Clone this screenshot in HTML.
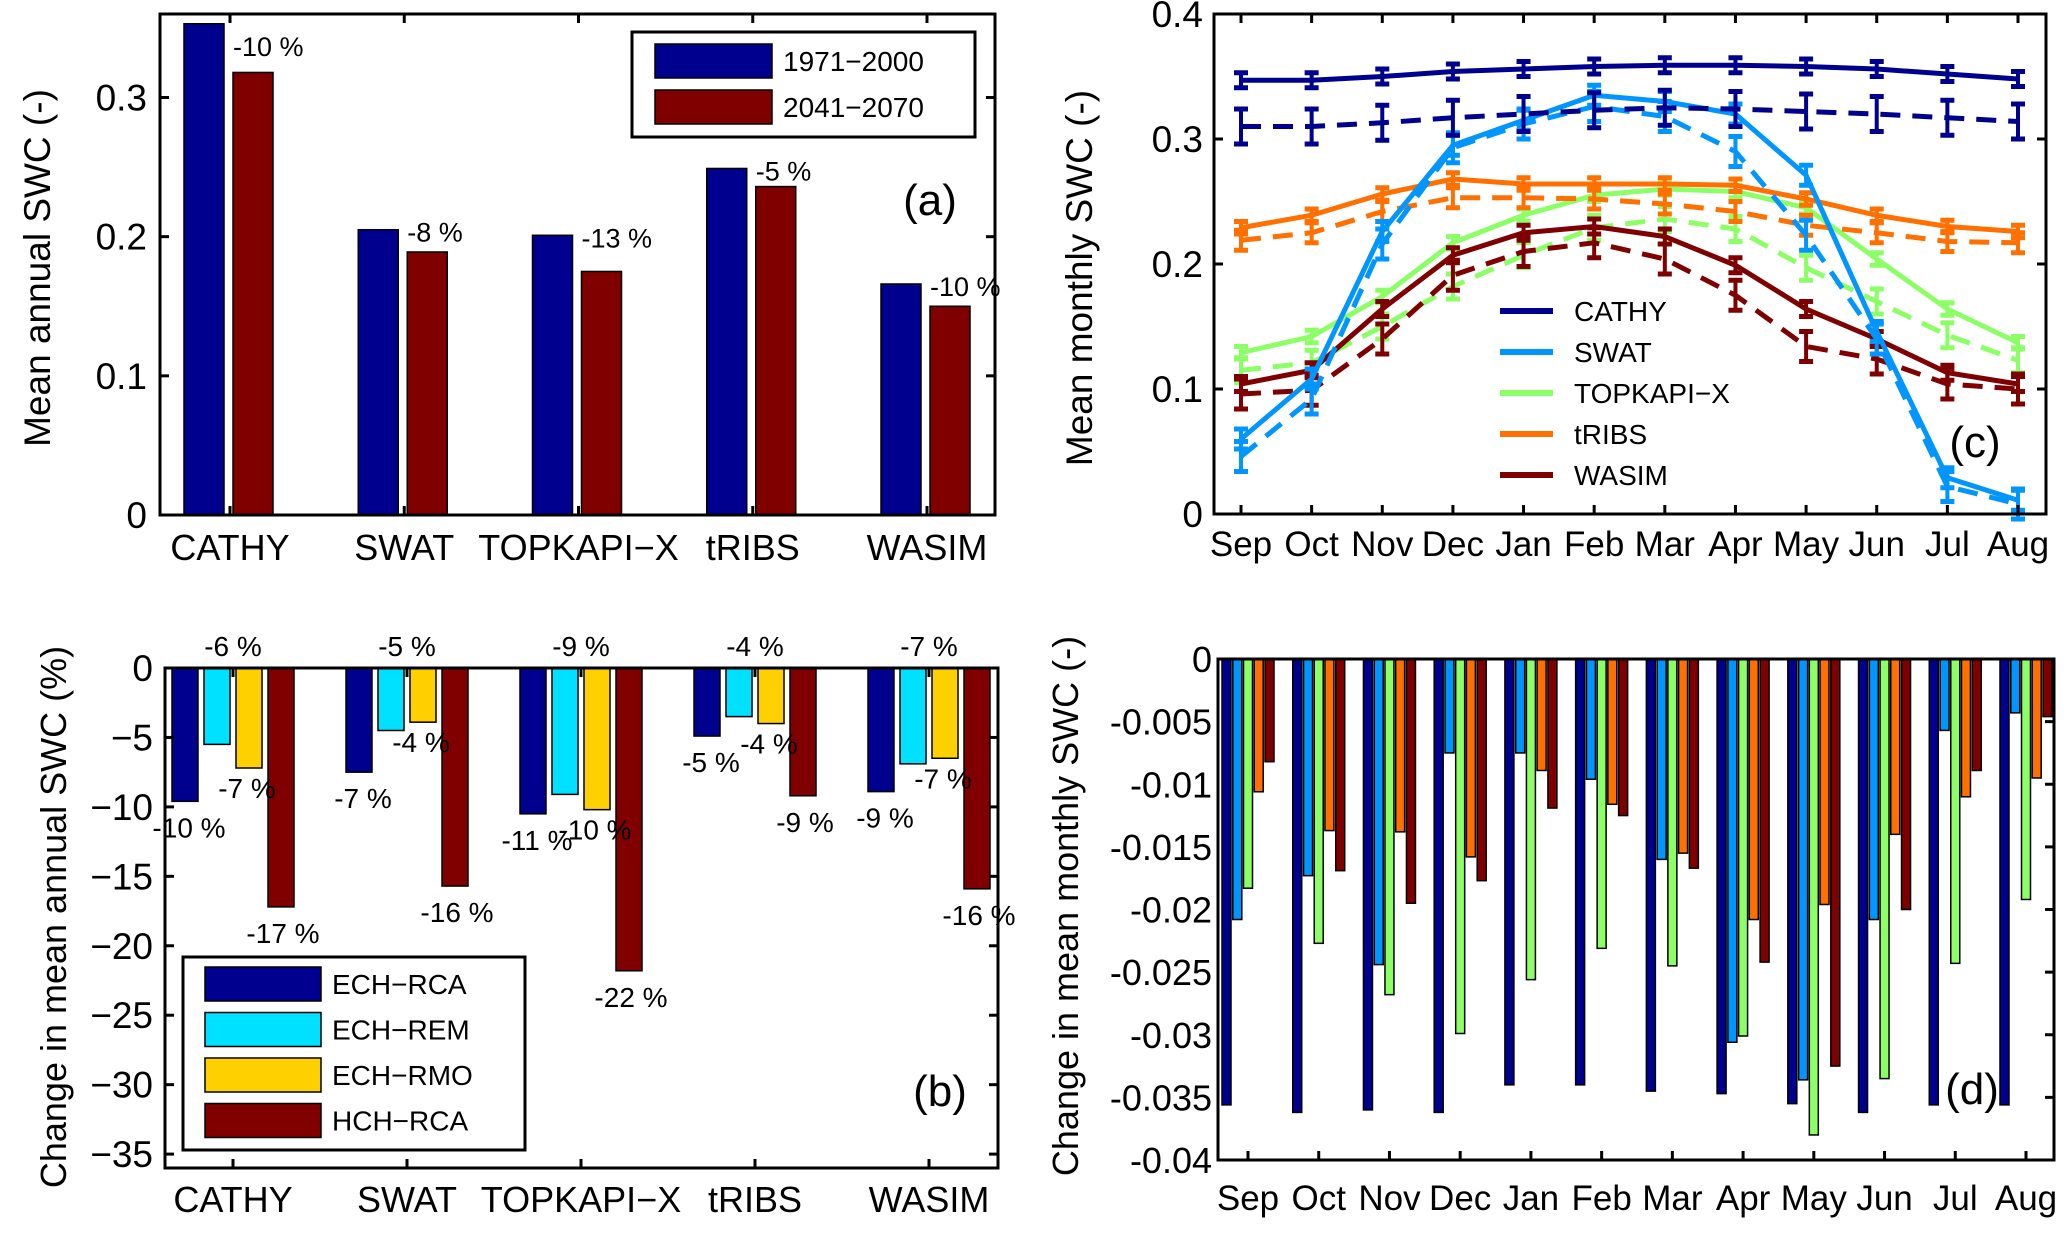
<!DOCTYPE html>
<html><head><meta charset="utf-8"><style>
html,body{margin:0;padding:0;background:#fff;}
svg{display:block;font-family:"Liberation Sans",Arial,sans-serif;}
</style></head><body>
<svg id="fig" width="2067" height="1237" viewBox="0 0 2067 1237" xmlns="http://www.w3.org/2000/svg"></svg>
<script>
// ---------- Panel (a) data ----------
const aCategories = ["CATHY","SWAT","TOPKAPI\u2212X","tRIBS","WASIM"];
const aHist = [0.353,0.205,0.201,0.249,0.166];
const aFut = [0.318,0.189,0.175,0.236,0.150];
const aPct = ["-10 %","-8 %","-13 %","-5 %","-10 %"];
const aTicks = [0,0.1,0.2,0.3];
const aTickLabels = ["0","0.1","0.2","0.3"];
const aLegend = ["1971\u22122000","2041\u22122070"];

// ---------- Panel (b) data ----------
const bCategories = ["CATHY","SWAT","TOPKAPI\u2212X","tRIBS","WASIM"];
const bEchRca = [-9.6,-7.5,-10.5,-4.9,-8.9];
const bEchRem = [-5.5,-4.5,-9.1,-3.5,-6.9];
const bEchRmo = [-7.2,-3.9,-10.2,-4.0,-6.5];
const bHchRca = [-17.2,-15.7,-21.8,-9.2,-15.9];
const bLblRca = ["-10 %","-7 %","-11 %","-5 %","-9 %"];
const bLblRem = ["-6 %","-5 %","-9 %","-4 %","-7 %"];
const bLblRmo = ["-7 %","-4 %","-10 %","-4 %","-7 %"];
const bLblHch = ["-17 %","-16 %","-22 %","-9 %","-16 %"];
const bTicks = [0,-5,-10,-15,-20,-25,-30,-35];
const bTickLabels = ["0","\u22125","\u221210","\u221215","\u221220","\u221225","\u221230","\u221235"];
const bLegend = ["ECH\u2212RCA","ECH\u2212REM","ECH\u2212RMO","HCH\u2212RCA"];

// ---------- Panel (c) data ----------
const months = ["Sep","Oct","Nov","Dec","Jan","Feb","Mar","Apr","May","Jun","Jul","Aug"];
const cModels = ["CATHY","SWAT","TOPKAPI\u2212X","tRIBS","WASIM"];
const cCathyHist = [0.347,0.347,0.350,0.354,0.356,0.358,0.359,0.359,0.358,0.356,0.352,0.348];
const cCathyFut  = [0.310,0.310,0.313,0.317,0.320,0.323,0.325,0.324,0.322,0.320,0.317,0.314];
const cSwatHist  = [0.060,0.108,0.226,0.295,0.315,0.335,0.330,0.320,0.271,0.146,0.029,0.011];
const cSwatFut   = [0.046,0.092,0.216,0.293,0.312,0.326,0.318,0.290,0.223,0.140,0.022,0.008];
const cTopHist   = [0.129,0.142,0.174,0.217,0.239,0.255,0.260,0.258,0.245,0.204,0.164,0.137];
const cTopFut    = [0.115,0.121,0.150,0.182,0.207,0.229,0.236,0.228,0.197,0.170,0.143,0.123];
const cTribsHist = [0.229,0.239,0.256,0.268,0.264,0.264,0.264,0.263,0.252,0.239,0.230,0.226];
const cTribsFut  = [0.219,0.225,0.242,0.253,0.253,0.252,0.248,0.242,0.231,0.225,0.218,0.217];
const cWasimHist = [0.104,0.115,0.164,0.207,0.225,0.230,0.222,0.199,0.164,0.140,0.113,0.104];
const cWasimFut  = [0.096,0.099,0.140,0.191,0.210,0.217,0.204,0.175,0.134,0.124,0.104,0.100];
const cErrHist = [0.006,0.008,0.005,0.005,0.006];
const cErrFut  = [0.014,0.012,0.010,0.008,0.012];
const cTicks = [0,0.1,0.2,0.3,0.4];
const cTickLabels = ["0","0.1","0.2","0.3","0.4"];

// ---------- Panel (d) data ----------
const dEchRca = [-0.0356,-0.0362,-0.0360,-0.0362,-0.0340,-0.0340,-0.0345,-0.0347,-0.0355,-0.0362,-0.0356,-0.0356];
const dSwat   = [-0.0208,-0.0173,-0.0244,-0.0075,-0.0075,-0.0096,-0.0160,-0.0306,-0.0336,-0.0208,-0.0057,-0.0043];
const dTop    = [-0.0183,-0.0227,-0.0268,-0.0299,-0.0256,-0.0231,-0.0245,-0.0301,-0.0380,-0.0335,-0.0243,-0.0192];
const dTribs  = [-0.0106,-0.0137,-0.0138,-0.0158,-0.0089,-0.0116,-0.0155,-0.0208,-0.0196,-0.0140,-0.0110,-0.0095];
const dWasim  = [-0.0082,-0.0169,-0.0195,-0.0177,-0.0119,-0.0125,-0.0167,-0.0242,-0.0325,-0.0200,-0.0089,-0.0046];
const dTicks = [0,-0.005,-0.01,-0.015,-0.02,-0.025,-0.03,-0.035,-0.04];
const dTickLabels = ["0","-0.005","-0.01","-0.015","-0.02","-0.025","-0.03","-0.035","-0.04"];

const NS="http://www.w3.org/2000/svg";
const svg=document.getElementById('fig');
function mk(tag,attrs,parent){const e=document.createElementNS(NS,tag);for(const k in attrs)e.setAttribute(k,attrs[k]);(parent||svg).appendChild(e);return e;}
function txt(s,x,y,size,anchor,parent,extra){const t=mk('text',Object.assign({x:x,y:y,'font-size':size,'text-anchor':anchor||'start',fill:'#000'},extra||{}),parent);t.textContent=s;return t;}
function lin(d0,d1,r0,r1){return v=>r0+(v-d0)*(r1-r0)/(d1-d0);}

function axesBox(L,R,T,B,name){
  const r=mk('rect',{x:L,y:T,width:R-L,height:B-T,fill:'none',stroke:'#000','stroke-width':3});
  
  
}

// ================= Panel (a) =================
(function(){
  const g=mk('g',{});
  
  
  const L=160,R=995,T=14,B=515;
  const x=lin(1,5,230,927), y=lin(0,0.36,B,T);
  aHist.forEach((v,i)=>{
    const r=mk('rect',{x:x(i+1)-46,y:y(v),width:40,height:y(0)-y(v),fill:'#00008F',stroke:'#000','stroke-width':1.5},g);
    
    
  });
  aFut.forEach((v,i)=>{
    const r=mk('rect',{x:x(i+1)+3,y:y(v),width:40,height:y(0)-y(v),fill:'#800000',stroke:'#000','stroke-width':1.5},g);
    
    
  });
  aPct.forEach((s,i)=>{
    const t=txt(s,x(i+1)+3,Math.max(y(aHist[i])+12,56),27,'start',g);
    
    
  });
  axesBox(L,R,T,B,'axes-a');
  aTicks.forEach((v,i)=>{
    mk('line',{x1:L,x2:L+9,y1:y(v),y2:y(v),stroke:'#000','stroke-width':3},g);
    mk('line',{x1:R,x2:R-9,y1:y(v),y2:y(v),stroke:'#000','stroke-width':3},g);
    const t=txt(aTickLabels[i],147,y(v)+13,37,'end',g);
    
    
  });
  aCategories.forEach((c,i)=>{
    mk('line',{x1:x(i+1),x2:x(i+1),y1:B,y2:B-9,stroke:'#000','stroke-width':3},g);
    mk('line',{x1:x(i+1),x2:x(i+1),y1:T,y2:T+9,stroke:'#000','stroke-width':3},g);
    const t=txt(c,x(i+1),560,36,'middle',g);
    
    
  });
  const yl=txt('Mean annual SWC (-)',0,0,37,'middle',g,{transform:'translate(50,268) rotate(-90)'});
  
  
  const lb=mk('rect',{x:632,y:32,width:343,height:105,fill:'#fff',stroke:'#000','stroke-width':3},g);
  
  
  const lc=['#00008F','#800000'];
  aLegend.forEach((s,i)=>{
    const p=mk('rect',{x:655,y:44+i*46,width:117,height:34,fill:lc[i],stroke:'#000','stroke-width':1.5},g);
    
    
    txt(s,783,71+i*46,28,'start',g);
  });
  const pl=txt('(a)',930,215,44,'middle',g);
  
  
})();

// ================= Panel (b) =================
(function(){
  const g=mk('g',{});
  
  
  const L=165,R=998,T=668,B=1168;
  const x=lin(1,5,233,929), y=lin(0,-36,T,B);
  const series=[bEchRca,bEchRem,bEchRmo,bHchRca];
  const cols=['#00008F','#00E0FF','#FFD000','#800000'];
  const offs=[-48,-16,16,48];
  const names=['ech-rca','ech-rem','ech-rmo','hch-rca'];
  series.forEach((arr,s)=>{
    arr.forEach((v,i)=>{
      const r=mk('rect',{x:x(i+1)+offs[s]-13,y:y(0),width:26,height:y(v)-y(0),fill:cols[s],stroke:'#000','stroke-width':1.5},g);
      
      
    });
  });
  const lbls=[bLblRca,null,bLblRmo,bLblHch];
  const lx=[4,0,-2,2];
  const ly=[36,0,30,36];
  lbls.forEach((arr,s)=>{ if(!arr)return;
    arr.forEach((l,i)=>{
      const t=txt(l,x(i+1)+offs[s]+lx[s],y(series[s][i])+ly[s],28,'middle',g);
      
      
    });
  });
  bLblRem.forEach((l,i)=>{
    const t=txt(l,x(i+1),656,28,'middle',g);
    
    
  });
  axesBox(L,R,T,B,'axes-b');
  bTicks.forEach((v,i)=>{
    mk('line',{x1:L,x2:L+9,y1:y(v),y2:y(v),stroke:'#000','stroke-width':3},g);
    mk('line',{x1:R,x2:R-9,y1:y(v),y2:y(v),stroke:'#000','stroke-width':3},g);
    const t=txt(bTickLabels[i],153,y(v)+13,37,'end',g);
    
    
  });
  bCategories.forEach((c,i)=>{
    mk('line',{x1:x(i+1),x2:x(i+1),y1:B,y2:B-9,stroke:'#000','stroke-width':3},g);
    mk('line',{x1:x(i+1),x2:x(i+1),y1:T,y2:T+9,stroke:'#000','stroke-width':3},g);
    const t=txt(c,x(i+1),1212,36,'middle',g);
    
    
  });
  const yl=txt('Change in mean annual SWC (%)',0,0,36,'middle',g,{transform:'translate(66,917) rotate(-90)'});
  
  
  const lb=mk('rect',{x:183,y:957,width:342,height:193,fill:'#fff',stroke:'#000','stroke-width':3},g);
  
  
  bLegend.forEach((s,i)=>{
    const p=mk('rect',{x:205,y:967+i*45.5,width:116,height:34,fill:cols[i],stroke:'#000','stroke-width':1.5},g);
    
    
    txt(s,332,994+i*45.5,28,'start',g);
  });
  const pl=txt('(b)',940,1106,44,'middle',g);
  
  
})();

// ================= Panel (c) =================
(function(){
  const g=mk('g',{});
  
  
  const L=1214,R=2046,T=14,B=514;
  const x=lin(1,12,1241,2018), y=lin(0,0.4,B,T);
  const hist=[cCathyHist,cSwatHist,cTopHist,cTribsHist,cWasimHist];
  const fut=[cCathyFut,cSwatFut,cTopFut,cTribsFut,cWasimFut];
  const cols=['#00008F','#0095FF','#8CFF66','#FF7000','#7F0000'];
  const order=[2,3,4,1,0];
  function draw(arr,err,col,dash,name){
    const pts=arr.map((v,i)=>x(i+1)+','+y(v)).join(' ');
    const pl=mk('polyline',{points:pts,fill:'none',stroke:col,'stroke-width':5,'stroke-dasharray':dash?'20 12':'none'},g);
    
    
    arr.forEach((v,i)=>{
      const cx=x(i+1);
      mk('line',{x1:cx,x2:cx,y1:y(v+err),y2:y(v-err),stroke:col,'stroke-width':4},g);
      mk('line',{x1:cx-7,x2:cx+7,y1:y(v+err),y2:y(v+err),stroke:col,'stroke-width':5},g);
      mk('line',{x1:cx-7,x2:cx+7,y1:y(v-err),y2:y(v-err),stroke:col,'stroke-width':5},g);
    });
  }
  order.forEach(s=>{
    draw(fut[s],cErrFut[s],cols[s],true,'line-future-'+s);
    draw(hist[s],cErrHist[s],cols[s],false,'line-hist-'+s);
  });
  axesBox(L,R,T,B,'axes-c');
  cTicks.forEach((v,i)=>{
    mk('line',{x1:L,x2:L+9,y1:y(v),y2:y(v),stroke:'#000','stroke-width':3},g);
    mk('line',{x1:R,x2:R-9,y1:y(v),y2:y(v),stroke:'#000','stroke-width':3},g);
    const t=txt(cTickLabels[i],1203,y(v)+13,37,'end',g);
    
    
  });
  months.forEach((m,i)=>{
    mk('line',{x1:x(i+1),x2:x(i+1),y1:B,y2:B-9,stroke:'#000','stroke-width':3},g);
    mk('line',{x1:x(i+1),x2:x(i+1),y1:T,y2:T+9,stroke:'#000','stroke-width':3},g);
    const t=txt(m,x(i+1),556,35,'middle',g);
    
    
  });
  const yl=txt('Mean monthly SWC (-)',0,0,37,'middle',g,{transform:'translate(1092,278) rotate(-90)'});
  
  
  cModels.forEach((m,i)=>{
    const ly=311+i*41;
    const l=mk('line',{x1:1500,x2:1553,y1:ly,y2:ly,stroke:cols[i],'stroke-width':6},g);
    
    
    txt(m,1574,ly+10,28,'start',g);
  });
  const pl=txt('(c)',1975,457,44,'middle',g);
  
  
})();

// ================= Panel (d) =================
(function(){
  const g=mk('g',{});
  
  
  const L=1218,R=2054,T=659,B=1160;
  const x=lin(1,12,1248,2026), y=lin(0,-0.04,T,B);
  const series=[dEchRca,dSwat,dTop,dTribs,dWasim];
  const cols=['#00008F','#0095FF','#8CFF66','#FF7000','#7F0000'];
  const offs=[-21.5,-10.7,0,10.7,21.5];
  series.forEach((arr,s)=>{
    arr.forEach((v,i)=>{
      const r=mk('rect',{x:x(i+1)+offs[s]-4.5,y:y(0),width:9,height:y(v)-y(0),fill:cols[s],stroke:'#000','stroke-width':1.5},g);
      
      
    });
  });
  axesBox(L,R,T,B,'axes-d');
  dTicks.forEach((v,i)=>{
    mk('line',{x1:R,x2:R-9,y1:y(v),y2:y(v),stroke:'#000','stroke-width':3},g);
    const t=txt(dTickLabels[i],1212,y(v)+13,36,'end',g);
    
    
  });
  months.forEach((m,i)=>{
    mk('line',{x1:x(i+1),x2:x(i+1),y1:B,y2:B-9,stroke:'#000','stroke-width':3},g);
    const t=txt(m,x(i+1),1210,35,'middle',g);
    
    
  });
  const yl=txt('Change in mean monthly SWC (-)',0,0,36,'middle',g,{transform:'translate(1078,906) rotate(-90)'});
  
  
  const pl=txt('(d)',1972,1104,44,'middle',g);
  
  
})();
</script>
</body></html>
